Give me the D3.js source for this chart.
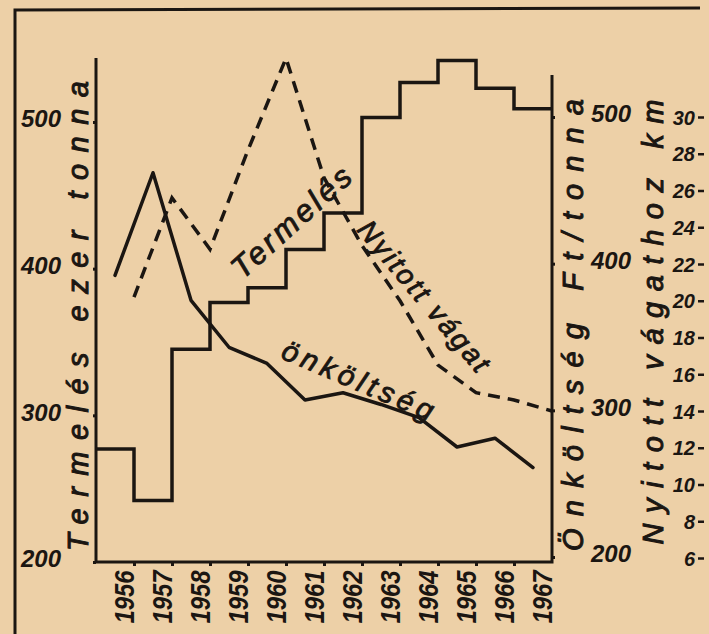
<!DOCTYPE html>
<html>
<head>
<meta charset="utf-8">
<script src="https://cdn.jsdelivr.net/npm/d3@7"></script>
<style>
  body { margin: 0; background: #edd0a7; }
  svg { display: block; }
</style>
</head>
<body>
<svg id="chart"></svg>
<script>
// years on the x axis (each year is one band)
const years = [1956, 1957, 1958, 1959, 1960, 1961, 1962, 1963, 1964, 1965, 1966, 1967];
const yearLabels = ["1956", "1957", "1958", "1959", "1960", "1961", "1962", "1963", "1964", "1965", "1966", "1967"];

// Termelés, ezer tonna (left axis) - step line
const termeles = [277, 242, 345, 377, 387, 413, 438, 503, 527, 542, 523, 509];
// Önköltség, Ft/tonna (right axis) - solid line, mid-year
const onkoltseg = [392, 462, 375, 343, 332, 307, 312, 304, 295, 275, 281, 261];
// Nyitott vágat, km (outer right axis) - dashed line, end of year
const nyitottVagat = [20.2, 25.6, 22.8, 28.2, 33.2, 26.7, 23.0, 20.0, 16.5, 15.0, 14.6, 14.0];

const leftTicks = [200, 300, 400, 500];
const rightTicks = [200, 300, 400, 500];
const kmTicks = [6, 8, 10, 12, 14, 16, 18, 20, 22, 24, 26, 28, 30];

const width = 709, height = 634;
const ink = "#1b1612";
const font = "'Liberation Sans', Arial, sans-serif";

const svg = d3.select("#chart")
  .attr("width", width)
  .attr("height", height);

const x = d3.scaleLinear().domain([1956, 1968]).range([96, 552]);
const yLeft = d3.scaleLinear().domain([200, 500]).range([562, 122]);
const yRight = d3.scaleLinear().domain([200, 500]).range([557, 117]);
const yKm = d3.scaleLinear().domain([6, 30]).range([558, 117]);

// outer frame of the clipping
svg.append("path")
  .attr("d", "M15,634 L15,10 L700,8")
  .attr("fill", "none")
  .attr("stroke", ink)
  .attr("stroke-width", 3);

// axis lines
svg.append("path")
  .attr("d", `M96,58 L96,${yLeft(200)} L552,${yLeft(200)} L552,75`)
  .attr("fill", "none")
  .attr("stroke", ink)
  .attr("stroke-width", 3);

// bottom ticks
svg.append("g")
  .attr("transform", `translate(0,${yLeft(200)})`)
  .call(d3.axisBottom(x).tickValues(years.slice(1)).tickSize(4).tickSizeOuter(0).tickFormat(""))
  .call(g => g.select(".domain").remove())
  .call(g => g.selectAll("line").attr("stroke", ink).attr("stroke-width", 3));

// year labels, rotated
svg.append("g")
  .selectAll("text")
  .data(years)
  .enter()
  .append("text")
  .attr("transform", d => `translate(${x(d + 0.5) + 9},597) rotate(-90)`)
  .attr("dy", "0.36em")
  .attr("text-anchor", "middle")
  .attr("textLength", 53)
  .attr("lengthAdjust", "spacingAndGlyphs")
  .style("font", `italic bold 28px ${font}`)
  .attr("fill", ink)
  .text((d, i) => yearLabels[i]);

// left axis ticks + labels
svg.append("g")
  .attr("transform", "translate(96,0)")
  .call(d3.axisLeft(yLeft).tickValues(leftTicks).tickSize(3).tickPadding(32).tickFormat(d3.format("d")))
  .call(g => g.select(".domain").remove())
  .call(g => g.selectAll("line").attr("stroke", ink).attr("stroke-width", 3))
  .call(g => g.selectAll("text").attr("fill", ink).style("font", `italic bold 24px ${font}`).attr("dy", "0.2em"));

// right axis ticks + labels
svg.append("g")
  .attr("transform", "translate(552,0)")
  .call(d3.axisRight(yRight).tickValues(rightTicks).tickSize(3).tickPadding(36).tickFormat(d3.format("d")))
  .call(g => g.select(".domain").remove())
  .call(g => g.selectAll("line").attr("stroke", ink).attr("stroke-width", 3))
  .call(g => g.selectAll("text").attr("fill", ink).style("font", `italic bold 24px ${font}`).attr("dy", "0.2em"));

// km axis (no line)
svg.append("g")
  .attr("transform", "translate(704,0)")
  .call(d3.axisLeft(yKm).tickValues(kmTicks).tickSize(6).tickPadding(3))
  .call(g => g.select(".domain").remove())
  .call(g => g.selectAll("line").attr("stroke", ink).attr("stroke-width", 2.5))
  .call(g => g.selectAll("text").attr("fill", ink).style("font", `italic bold 20px ${font}`).attr("dy", "0.35em"));

// axis titles
const titles = [
  { text: "Termelés ezer tonna", x: 78, y: 316, len: 470 },
  { text: "Önköltség Ft/tonna", x: 573, y: 325, len: 452 },
  { text: "Nyitott vágathoz km", x: 653, y: 322, len: 445 }
];
svg.append("g")
  .selectAll("text")
  .data(titles)
  .enter()
  .append("text")
  .attr("transform", d => `translate(${d.x},${d.y}) rotate(-90)`)
  .attr("dy", "0.35em")
  .attr("text-anchor", "middle")
  .attr("textLength", d => d.len)
  .attr("lengthAdjust", "spacing")
  .style("font", `italic 29px ${font}`)
  .attr("fill", ink)
  .attr("stroke", ink)
  .attr("stroke-width", 1)
  .text(d => d.text);

// Termelés step line
const stepPts = years.map((yr, i) => [x(yr), yLeft(termeles[i])]);
stepPts.push([x(1968), yLeft(termeles[termeles.length - 1])]);
svg.append("path")
  .attr("d", d3.line().curve(d3.curveStepAfter)(stepPts))
  .attr("fill", "none")
  .attr("stroke", ink)
  .attr("stroke-width", 3.5);

// Önköltség line
svg.append("path")
  .datum(onkoltseg)
  .attr("d", d3.line()
    .x((d, i) => x(years[i] + 0.5))
    .y(d => yRight(d)))
  .attr("fill", "none")
  .attr("stroke", ink)
  .attr("stroke-width", 3.5)
  .attr("stroke-linejoin", "round")
  .attr("stroke-linecap", "round");

// Nyitott vágat dashed line
svg.append("path")
  .datum(nyitottVagat)
  .attr("d", d3.line()
    .x((d, i) => x(years[i] + 1))
    .y(d => yKm(d)))
  .attr("fill", "none")
  .attr("stroke", ink)
  .attr("stroke-width", 3.5)
  .attr("stroke-dasharray", "12,8");

// series labels along the lines
const seriesLabels = [
  { text: "Termelés", x: 291, y: 222, angle: -42, len: 150, size: 31 },
  { text: "Nyitott vágat", x: 424, y: 296, angle: 50, len: 188, size: 28 },
  { text: "önköltség", x: 358, y: 380, angle: 23, len: 162, size: 29 }
];
svg.append("g")
  .selectAll("text")
  .data(seriesLabels)
  .enter()
  .append("text")
  .attr("transform", d => `translate(${d.x},${d.y}) rotate(${d.angle})`)
  .attr("dy", "0.35em")
  .attr("text-anchor", "middle")
  .attr("textLength", d => d.len)
  .attr("lengthAdjust", "spacing")
  .style("font", d => `italic ${d.size}px ${font}`)
  .attr("fill", ink)
  .attr("stroke", ink)
  .attr("stroke-width", 0.9)
  .text(d => d.text);
</script>
</body>
</html>
